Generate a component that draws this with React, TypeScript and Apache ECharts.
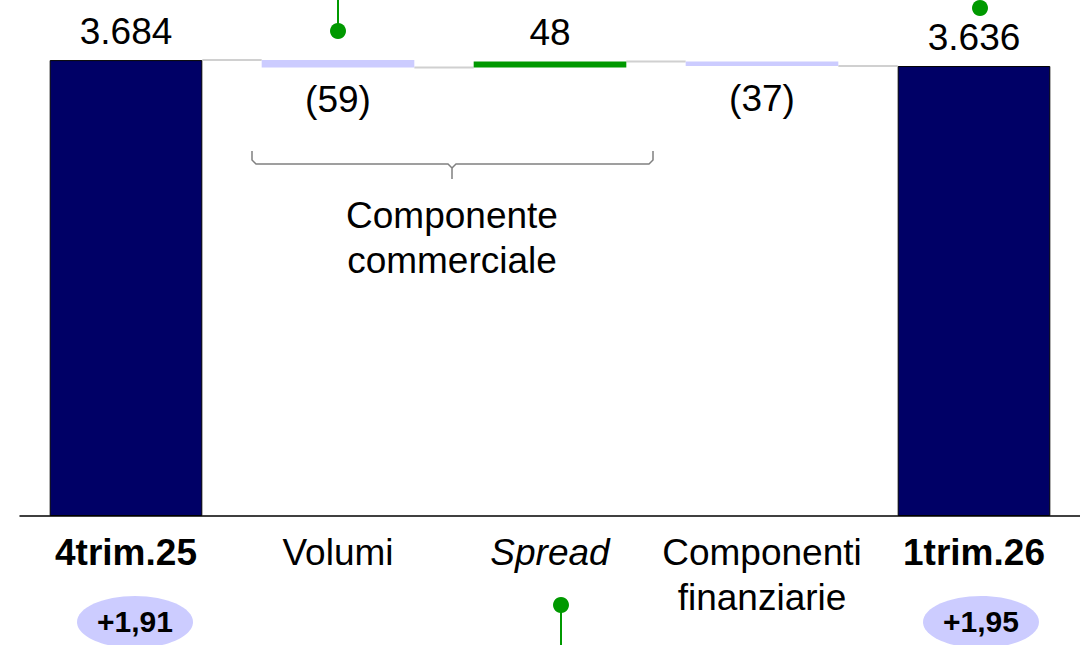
import React, { useEffect, useRef } from 'react';
import * as echarts from 'echarts';

const categories = ['4trim.25', 'Volumi', 'Spread', 'Componenti\nfinanziarie', '1trim.26'];
const startValue = 3684;
const deltas = [-59, 48, -37];
const endValue = 3636;
const valueLabels = ['3.684', '(59)', '48', '(37)', '3.636'];
const bubbleLabels = ['+1,91', '+1,95'];
const groupLabel = 'Componente\ncommerciale';

const barColors = ['#000066', '#CCCCFF', '#009900', '#CCCCFF', '#000066'];
const FONT = "Arial, 'Liberation Sans', sans-serif";
const FS = 37;
const BAR_RATIO = 0.72;

function buildWaterfall() {
  const base: number[] = [0];
  const heights: number[] = [startValue];
  const levels: number[] = [startValue];
  let run = startValue;
  deltas.forEach((d) => {
    const next = run + d;
    base.push(Math.min(run, next));
    heights.push(Math.abs(d));
    run = next;
    levels.push(run);
  });
  base.push(0);
  heights.push(endValue);
  return { base, heights, levels };
}

export default function App() {
  const ref = useRef<HTMLDivElement>(null);
  useEffect(() => {
    if (!ref.current) return;
    const chart = echarts.init(ref.current, null, { renderer: 'svg' });
    const { base, heights, levels } = buildWaterfall();
    const isTotal = (i: number) => i === 0 || i === categories.length - 1;
    const isNeg = (i: number) => !isTotal(i) && deltas[i - 1] < 0;

    const valueData = heights.map((h, i) => ({
      value: h,
      itemStyle: {
        color: barColors[i],
        borderColor: isTotal(i) ? '#000000' : barColors[i],
        borderWidth: isTotal(i) ? 1 : 0,
      },
      label: {
        position: isNeg(i) ? 'bottom' : 'top',
        distance: isNeg(i) ? 14 : 10,
      },
    }));

    chart.setOption({
      animation: false,
      grid: { left: 20, right: 0, top: 21, bottom: 129 },
      xAxis: {
        type: 'category',
        data: categories,
        axisTick: { show: false },
        axisLine: { lineStyle: { color: '#000000', width: 1.5 } },
        axisLabel: {
          interval: 0,
          margin: 14,
          formatter: (v: string) => {
            if (v === categories[0] || v === categories[categories.length - 1]) return `{b|${v}}`;
            if (v === 'Spread') return `{i|${v}}`;
            return v
              .split('\n')
              .map((l) => `{n|${l}}`)
              .join('\n');
          },
          rich: {
            b: { fontFamily: FONT, fontSize: FS, fontWeight: 'bold', color: '#000', lineHeight: 45 },
            i: { fontFamily: FONT, fontSize: FS, fontStyle: 'italic', color: '#000', lineHeight: 45 },
            n: { fontFamily: FONT, fontSize: FS, color: '#000', lineHeight: 45 },
          },
        },
      },
      yAxis: { type: 'value', min: 0, max: 4000, show: false, splitLine: { show: false } },
      series: [
        {
          type: 'custom',
          z: 1,
          silent: true,
          data: levels.map((lv, i) => [i, lv]),
          renderItem: (params: any, api: any) => {
            const i = api.value(0);
            const lv = api.value(1);
            const p1 = api.coord([i, lv]);
            const p2 = api.coord([i + 1, lv]);
            const half = (api.size([1, 0])[0] * BAR_RATIO) / 2;
            return {
              type: 'line',
              shape: { x1: p1[0] + half, y1: p1[1], x2: p2[0] - half, y2: p2[1] },
              style: { stroke: '#D0D0D0', lineWidth: 2 },
            };
          },
        },
        {
          type: 'bar',
          stack: 'wf',
          z: 2,
          data: base,
          itemStyle: { color: 'transparent' },
          barCategoryGap: '28%',
          silent: true,
        },
        {
          type: 'bar',
          stack: 'wf',
          z: 3,
          data: valueData,
          barCategoryGap: '28%',
          label: {
            show: true,
            fontFamily: FONT,
            fontSize: FS,
            color: '#000000',
            lineHeight: 37,
            formatter: (p: any) => valueLabels[p.dataIndex],
          },
        },
      ],
      graphic: [
        {
          type: 'polyline',
          shape: { points: [[252, 151], [252, 160], [256, 164], [448, 164], [452, 168], [452, 179]] },
          style: { stroke: '#808080', lineWidth: 1.5, fill: null },
        },
        {
          type: 'polyline',
          shape: { points: [[452, 168], [456, 164], [649, 164], [653, 160], [653, 151]] },
          style: { stroke: '#808080', lineWidth: 1.5, fill: null },
        },
        {
          type: 'text',
          x: 452,
          y: 238,
          style: {
            text: groupLabel,
            fontFamily: FONT,
            fontSize: FS,
            lineHeight: 45,
            fill: '#000',
            align: 'center',
            verticalAlign: 'middle',
          },
        },
        { type: 'line', shape: { x1: 338, y1: 0, x2: 338, y2: 31 }, style: { stroke: '#009900', lineWidth: 2 } },
        { type: 'circle', shape: { cx: 338, cy: 31, r: 8 }, style: { fill: '#009900' } },
        { type: 'circle', shape: { cx: 980, cy: 8, r: 8 }, style: { fill: '#009900' } },
        { type: 'line', shape: { x1: 561, y1: 605, x2: 561, y2: 645 }, style: { stroke: '#009900', lineWidth: 2 } },
        { type: 'circle', shape: { cx: 561, cy: 605, r: 8 }, style: { fill: '#009900' } },
        { type: 'ellipse', shape: { cx: 135, cy: 622, rx: 58, ry: 26 }, style: { fill: '#CCCCFF' } },
        {
          type: 'text',
          x: 135,
          y: 621,
          style: { text: bubbleLabels[0], fontFamily: FONT, fontSize: 30, fontWeight: 'bold', fill: '#000', align: 'center', verticalAlign: 'middle' },
        },
        { type: 'ellipse', shape: { cx: 981, cy: 622, rx: 58, ry: 26 }, style: { fill: '#CCCCFF' } },
        {
          type: 'text',
          x: 981,
          y: 621,
          style: { text: bubbleLabels[1], fontFamily: FONT, fontSize: 30, fontWeight: 'bold', fill: '#000', align: 'center', verticalAlign: 'middle' },
        },
      ],
    });
    return () => chart.dispose();
  }, []);
  return (
    <div
      ref={ref}
      style={{ position: 'fixed', left: 0, top: 0, width: 1080, height: 645, background: '#ffffff' }}
    />
  );
}
